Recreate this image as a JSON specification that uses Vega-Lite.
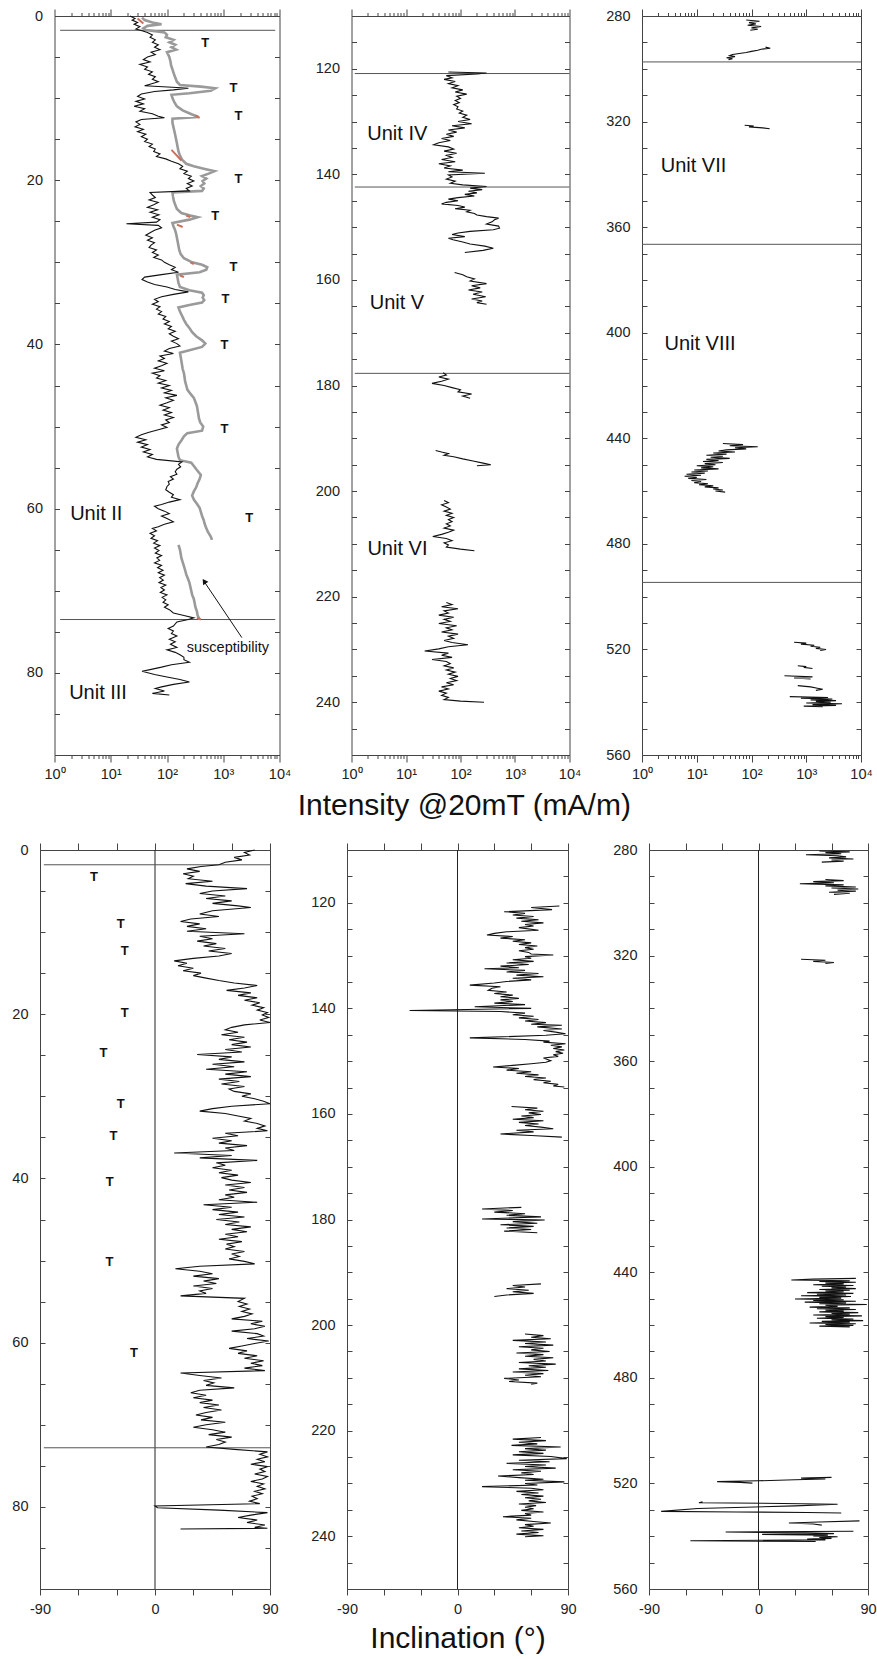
{
"$schema":"https://vega.github.io/schema/vega-lite/v6.json",
"background":"white",
"padding":{"left":11,"top":8,"right":0,"bottom":0},
"config":{"view":{"stroke":null},"axis":{"domainColor":"#444","tickColor":"#444","domainWidth":1,"tickWidth":1,"labelFont":"Liberation Sans","labelFontSize":14.5,"labelColor":"#222","grid":false,"titleFont":"Liberation Sans","titleFontWeight":"normal","titleFontSize":30,"titleColor":"#111"},"text":{"font":"Liberation Sans"}},
"datasets":{
"tlb":[{"d":0,"v":22},{"d":0.3,"v":27},{"d":0.5,"v":24},{"d":0.8,"v":30},{"d":1.0,"v":26},{"d":1.3,"v":33},{"d":1.6,"v":28},{"d":1.8,"v":36},{"d":2.0,"v":45},{"d":2.3,"v":55},{"d":2.6,"v":50},{"d":2.9,"v":62},{"d":3.2,"v":55},{"d":3.5,"v":70},{"d":3.8,"v":60},{"d":4.1,"v":75},{"d":4.4,"v":52},{"d":4.7,"v":62},{"d":5.0,"v":45},{"d":5.3,"v":38},{"d":5.6,"v":50},{"d":5.9,"v":33},{"d":6.2,"v":45},{"d":6.5,"v":40},{"d":6.8,"v":55},{"d":7.1,"v":47},{"d":7.4,"v":62},{"d":7.7,"v":55},{"d":8.0,"v":70},{"d":8.3,"v":50},{"d":8.5,"v":40},{"d":8.7,"v":150},{"d":8.8,"v":240},{"d":9.0,"v":130},{"d":9.2,"v":60},{"d":9.5,"v":35},{"d":9.8,"v":30},{"d":10.1,"v":40},{"d":10.4,"v":28},{"d":10.7,"v":38},{"d":11.0,"v":26},{"d":11.3,"v":40},{"d":11.6,"v":33},{"d":11.9,"v":55},{"d":12.2,"v":70},{"d":12.4,"v":90},{"d":12.6,"v":35},{"d":12.9,"v":28},{"d":13.2,"v":33},{"d":13.5,"v":27},{"d":13.8,"v":38},{"d":14.1,"v":30},{"d":14.4,"v":42},{"d":14.7,"v":35},{"d":15.0,"v":45},{"d":15.3,"v":40},{"d":15.6,"v":55},{"d":15.9,"v":48},{"d":16.2,"v":62},{"d":16.5,"v":58},{"d":16.8,"v":75},{"d":17.1,"v":65},{"d":17.4,"v":95},{"d":17.7,"v":120},{"d":18.0,"v":160},{"d":18.3,"v":190},{"d":18.6,"v":170},{"d":18.9,"v":230},{"d":19.2,"v":200},{"d":19.5,"v":270},{"d":19.8,"v":240},{"d":20.1,"v":300},{"d":20.4,"v":230},{"d":20.7,"v":280},{"d":21.0,"v":220},{"d":21.3,"v":250},{"d":21.5,"v":50},{"d":21.8,"v":55},{"d":22.1,"v":62},{"d":22.4,"v":48},{"d":22.7,"v":70},{"d":23.0,"v":58},{"d":23.3,"v":45},{"d":23.6,"v":68},{"d":23.9,"v":50},{"d":24.2,"v":72},{"d":24.5,"v":55},{"d":24.8,"v":75},{"d":25.1,"v":65},{"d":25.3,"v":19},{"d":25.5,"v":70},{"d":25.8,"v":80},{"d":26.1,"v":60},{"d":26.4,"v":50},{"d":26.7,"v":42},{"d":27.0,"v":55},{"d":27.3,"v":45},{"d":27.6,"v":60},{"d":27.9,"v":52},{"d":28.2,"v":48},{"d":28.5,"v":65},{"d":28.8,"v":55},{"d":29.1,"v":70},{"d":29.4,"v":58},{"d":29.7,"v":80},{"d":30.0,"v":90},{"d":30.3,"v":110},{"d":30.6,"v":140},{"d":30.9,"v":120},{"d":31.2,"v":160},{"d":31.5,"v":80},{"d":31.8,"v":40},{"d":32.1,"v":36},{"d":32.4,"v":45},{"d":32.7,"v":60},{"d":33.0,"v":100},{"d":33.3,"v":140},{"d":33.6,"v":240},{"d":33.9,"v":130},{"d":34.2,"v":80},{"d":34.5,"v":60},{"d":34.8,"v":70},{"d":35.1,"v":55},{"d":35.4,"v":75},{"d":35.7,"v":65},{"d":36.0,"v":80},{"d":36.3,"v":70},{"d":36.6,"v":95},{"d":36.9,"v":85},{"d":37.2,"v":110},{"d":37.5,"v":90},{"d":37.8,"v":120},{"d":38.1,"v":105},{"d":38.4,"v":140},{"d":38.7,"v":110},{"d":39.0,"v":130},{"d":39.3,"v":160},{"d":39.6,"v":120},{"d":39.9,"v":150},{"d":40.2,"v":170},{"d":40.5,"v":110},{"d":40.8,"v":90},{"d":41.1,"v":130},{"d":41.4,"v":75},{"d":41.7,"v":90},{"d":42.0,"v":70},{"d":42.3,"v":100},{"d":42.6,"v":80},{"d":42.9,"v":60},{"d":43.2,"v":90},{"d":43.5,"v":55},{"d":43.8,"v":75},{"d":44.1,"v":65},{"d":44.4,"v":95},{"d":44.7,"v":70},{"d":45.0,"v":110},{"d":45.3,"v":80},{"d":45.6,"v":120},{"d":45.9,"v":90},{"d":46.2,"v":150},{"d":46.5,"v":95},{"d":46.8,"v":130},{"d":47.1,"v":100},{"d":47.4,"v":75},{"d":47.7,"v":110},{"d":48.0,"v":85},{"d":48.3,"v":120},{"d":48.6,"v":90},{"d":48.9,"v":130},{"d":49.2,"v":95},{"d":49.5,"v":110},{"d":49.8,"v":80},{"d":50.1,"v":100},{"d":50.4,"v":70},{"d":50.7,"v":48},{"d":51.0,"v":35},{"d":51.3,"v":28},{"d":51.6,"v":42},{"d":51.9,"v":30},{"d":52.2,"v":45},{"d":52.5,"v":35},{"d":52.8,"v":50},{"d":53.1,"v":38},{"d":53.4,"v":55},{"d":53.7,"v":45},{"d":54.0,"v":65},{"d":54.3,"v":185},{"d":54.6,"v":160},{"d":54.9,"v":175},{"d":55.2,"v":150},{"d":55.5,"v":140},{"d":55.8,"v":150},{"d":56.1,"v":115},{"d":56.4,"v":130},{"d":56.7,"v":105},{"d":57.0,"v":110},{"d":57.3,"v":100},{"d":57.7,"v":95},{"d":58.0,"v":110},{"d":58.3,"v":130},{"d":58.6,"v":120},{"d":58.9,"v":170},{"d":59.2,"v":110},{"d":59.5,"v":80},{"d":59.7,"v":60},{"d":60.0,"v":70},{"d":60.3,"v":90},{"d":60.6,"v":110},{"d":60.9,"v":80},{"d":61.2,"v":100},{"d":61.6,"v":130},{"d":61.9,"v":90},{"d":62.2,"v":70},{"d":62.4,"v":55},{"d":62.7,"v":65},{"d":63.0,"v":50},{"d":63.3,"v":60},{"d":63.6,"v":52},{"d":63.9,"v":68},{"d":64.2,"v":58},{"d":64.5,"v":75},{"d":64.8,"v":60},{"d":65.1,"v":72},{"d":65.4,"v":62},{"d":65.7,"v":80},{"d":66.0,"v":66},{"d":66.3,"v":74},{"d":66.6,"v":60},{"d":66.9,"v":80},{"d":67.2,"v":68},{"d":67.5,"v":85},{"d":67.8,"v":70},{"d":68.1,"v":90},{"d":68.4,"v":74},{"d":68.7,"v":86},{"d":69.0,"v":72},{"d":69.3,"v":95},{"d":69.6,"v":78},{"d":69.9,"v":90},{"d":70.2,"v":76},{"d":70.5,"v":100},{"d":70.8,"v":82},{"d":71.1,"v":95},{"d":71.4,"v":85},{"d":71.7,"v":105},{"d":72.0,"v":90},{"d":72.3,"v":110},{"d":72.7,"v":130},{"d":73.0,"v":200},{"d":73.3,"v":300},{"d":73.5,"v":240},{"d":73.8,"v":150},{"d":74.3,"v":130},{"d":74.6,"v":105},{"d":74.9,"v":130},{"d":75.2,"v":120},{"d":75.5,"v":150},{"d":75.9,"v":110},{"d":76.2,"v":140},{"d":76.5,"v":115},{"d":76.9,"v":150},{"d":77.2,"v":100},{"d":77.5,"v":140},{"d":77.8,"v":170},{"d":78.1,"v":200},{"d":78.4,"v":200},{"d":78.7,"v":250},{"d":79.0,"v":120},{"d":79.3,"v":80},{"d":79.6,"v":50},{"d":79.8,"v":36},{"d":80.2,"v":60},{"d":80.5,"v":100},{"d":80.8,"v":170},{"d":81.1,"v":250},{"d":81.4,"v":130},{"d":81.7,"v":80},{"d":81.9,"v":62},{"d":82.2,"v":90},{"d":82.5,"v":55},{"d":82.7,"v":110}],
"tls":[{"d":0.2,"v":36,"g":1},{"d":0.5,"v":40,"g":1},{"d":0.8,"v":55,"g":1},{"d":1.0,"v":80,"g":1},{"d":1.2,"v":45,"g":1},{"d":1.5,"v":38,"g":1},{"d":1.7,"v":42,"g":1},{"d":2.0,"v":90,"g":1},{"d":2.3,"v":100,"g":1},{"d":2.6,"v":95,"g":1},{"d":2.9,"v":130,"g":1},{"d":3.2,"v":110,"g":1},{"d":3.5,"v":140,"g":1},{"d":3.8,"v":120,"g":1},{"d":4.1,"v":145,"g":1},{"d":4.4,"v":100,"g":1},{"d":4.7,"v":105,"g":1},{"d":5.0,"v":110,"g":1},{"d":5.5,"v":115,"g":1},{"d":6.0,"v":118,"g":1},{"d":6.5,"v":125,"g":1},{"d":7.0,"v":132,"g":1},{"d":7.5,"v":140,"g":1},{"d":8.0,"v":150,"g":1},{"d":8.4,"v":170,"g":1},{"d":8.6,"v":400,"g":1},{"d":8.8,"v":720,"g":1},{"d":9.1,"v":600,"g":1},{"d":9.4,"v":250,"g":1},{"d":9.6,"v":120,"g":1},{"d":10.0,"v":125,"g":1},{"d":10.5,"v":135,"g":1},{"d":11.0,"v":150,"g":1},{"d":11.5,"v":190,"g":1},{"d":12.0,"v":280,"g":1},{"d":12.3,"v":360,"g":1},{"d":12.5,"v":125,"g":1},{"d":13.0,"v":125,"g":1},{"d":13.5,"v":130,"g":1},{"d":14.0,"v":135,"g":1},{"d":14.5,"v":140,"g":1},{"d":15.0,"v":145,"g":1},{"d":15.5,"v":150,"g":1},{"d":16.0,"v":155,"g":1},{"d":16.5,"v":160,"g":1},{"d":17.0,"v":170,"g":1},{"d":17.5,"v":185,"g":1},{"d":18.0,"v":220,"g":1},{"d":18.3,"v":300,"g":1},{"d":18.6,"v":450,"g":1},{"d":18.9,"v":700,"g":1},{"d":19.2,"v":550,"g":1},{"d":19.5,"v":420,"g":1},{"d":19.8,"v":500,"g":1},{"d":20.1,"v":430,"g":1},{"d":20.4,"v":460,"g":1},{"d":20.7,"v":400,"g":1},{"d":21.0,"v":450,"g":1},{"d":21.3,"v":420,"g":1},{"d":21.5,"v":125,"g":1},{"d":22.0,"v":128,"g":1},{"d":22.5,"v":132,"g":1},{"d":23.0,"v":140,"g":1},{"d":23.5,"v":150,"g":1},{"d":24.0,"v":180,"g":1},{"d":24.3,"v":260,"g":1},{"d":24.5,"v":350,"g":1},{"d":24.8,"v":250,"g":1},{"d":25.2,"v":125,"g":1},{"d":25.6,"v":130,"g":1},{"d":26.0,"v":138,"g":1},{"d":26.5,"v":145,"g":1},{"d":27.0,"v":150,"g":1},{"d":27.5,"v":155,"g":1},{"d":28.0,"v":160,"g":1},{"d":28.5,"v":165,"g":1},{"d":29.0,"v":175,"g":1},{"d":29.5,"v":200,"g":1},{"d":30.0,"v":280,"g":1},{"d":30.3,"v":420,"g":1},{"d":30.6,"v":520,"g":1},{"d":30.9,"v":500,"g":1},{"d":31.2,"v":380,"g":1},{"d":31.5,"v":150,"g":1},{"d":32.0,"v":155,"g":1},{"d":32.5,"v":160,"g":1},{"d":33.0,"v":170,"g":1},{"d":33.4,"v":250,"g":1},{"d":33.7,"v":420,"g":1},{"d":34.0,"v":450,"g":1},{"d":34.3,"v":430,"g":1},{"d":34.6,"v":460,"g":1},{"d":34.9,"v":420,"g":1},{"d":35.2,"v":250,"g":1},{"d":35.5,"v":160,"g":1},{"d":36.0,"v":170,"g":1},{"d":36.5,"v":185,"g":1},{"d":37.0,"v":200,"g":1},{"d":37.5,"v":220,"g":1},{"d":38.0,"v":250,"g":1},{"d":38.5,"v":280,"g":1},{"d":39.0,"v":330,"g":1},{"d":39.5,"v":420,"g":1},{"d":39.9,"v":480,"g":1},{"d":40.3,"v":420,"g":1},{"d":40.7,"v":250,"g":1},{"d":41.0,"v":170,"g":1},{"d":41.5,"v":175,"g":1},{"d":42.0,"v":180,"g":1},{"d":42.5,"v":185,"g":1},{"d":43.0,"v":190,"g":1},{"d":43.5,"v":200,"g":1},{"d":44.0,"v":205,"g":1},{"d":44.5,"v":210,"g":1},{"d":45.0,"v":220,"g":1},{"d":45.5,"v":230,"g":1},{"d":46.0,"v":260,"g":1},{"d":46.5,"v":300,"g":1},{"d":47.0,"v":320,"g":1},{"d":47.5,"v":340,"g":1},{"d":48.0,"v":350,"g":1},{"d":48.5,"v":360,"g":1},{"d":49.0,"v":370,"g":1},{"d":49.5,"v":390,"g":1},{"d":50.0,"v":440,"g":1},{"d":50.5,"v":420,"g":1},{"d":50.8,"v":230,"g":1},{"d":51.2,"v":200,"g":1},{"d":51.7,"v":180,"g":1},{"d":52.2,"v":160,"g":1},{"d":52.7,"v":150,"g":1},{"d":53.2,"v":155,"g":1},{"d":53.7,"v":160,"g":1},{"d":54.1,"v":170,"g":1},{"d":54.4,"v":270,"g":1},{"d":54.8,"v":300,"g":1},{"d":55.3,"v":340,"g":1},{"d":55.9,"v":400,"g":1},{"d":56.4,"v":380,"g":1},{"d":56.9,"v":350,"g":1},{"d":57.4,"v":330,"g":1},{"d":57.9,"v":300,"g":1},{"d":58.4,"v":280,"g":1},{"d":58.9,"v":300,"g":1},{"d":59.4,"v":340,"g":1},{"d":59.9,"v":380,"g":1},{"d":60.4,"v":400,"g":1},{"d":60.9,"v":420,"g":1},{"d":61.4,"v":450,"g":1},{"d":61.9,"v":470,"g":1},{"d":62.4,"v":500,"g":1},{"d":62.9,"v":540,"g":1},{"d":63.4,"v":600,"g":1},{"d":63.8,"v":630,"g":1},{"d":64.4,"v":160,"g":2},{"d":65.0,"v":170,"g":2},{"d":65.5,"v":175,"g":2},{"d":66.0,"v":180,"g":2},{"d":66.5,"v":190,"g":2},{"d":67.0,"v":200,"g":2},{"d":67.5,"v":210,"g":2},{"d":68.0,"v":220,"g":2},{"d":68.5,"v":235,"g":2},{"d":69.0,"v":250,"g":2},{"d":69.5,"v":260,"g":2},{"d":70.0,"v":270,"g":2},{"d":70.5,"v":280,"g":2},{"d":71.0,"v":300,"g":2},{"d":71.5,"v":310,"g":2},{"d":72.0,"v":320,"g":2},{"d":72.5,"v":340,"g":2},{"d":73.0,"v":350,"g":2},{"d":73.5,"v":380,"g":2}],
"tlr":[{"d":0.3,"v":30,"g":1},{"d":0.9,"v":38,"g":1},{"d":12.1,"v":320,"g":2},{"d":12.4,"v":380,"g":2},{"d":16.3,"v":120,"g":3},{"d":17.0,"v":150,"g":3},{"d":17.6,"v":180,"g":3},{"d":24.3,"v":220,"g":4},{"d":24.5,"v":260,"g":4},{"d":25.4,"v":150,"g":5},{"d":25.7,"v":190,"g":5},{"d":30.0,"v":260,"g":6},{"d":30.2,"v":300,"g":6},{"d":31.6,"v":170,"g":7},{"d":31.8,"v":200,"g":7},{"d":73.3,"v":340,"g":8},{"d":73.5,"v":400,"g":8}],
"tmb":[{"d":120.6,"v":60,"g":1},{"d":120.8,"v":300,"g":1},{"d":121.0,"v":200,"g":1},{"d":121.3,"v":55,"g":1},{"d":121.7,"v":70,"g":1},{"d":122.0,"v":50,"g":1},{"d":122.4,"v":80,"g":1},{"d":122.8,"v":60,"g":1},{"d":123.2,"v":90,"g":1},{"d":123.6,"v":70,"g":1},{"d":124.0,"v":110,"g":1},{"d":124.4,"v":80,"g":1},{"d":124.8,"v":130,"g":1},{"d":125.2,"v":85,"g":1},{"d":125.6,"v":100,"g":1},{"d":126.0,"v":80,"g":1},{"d":126.4,"v":95,"g":1},{"d":126.8,"v":75,"g":1},{"d":127.2,"v":90,"g":1},{"d":127.6,"v":85,"g":1},{"d":128.0,"v":110,"g":1},{"d":128.4,"v":95,"g":1},{"d":128.8,"v":130,"g":1},{"d":129.2,"v":110,"g":1},{"d":129.6,"v":150,"g":1},{"d":130.0,"v":90,"g":1},{"d":130.4,"v":160,"g":1},{"d":130.8,"v":70,"g":1},{"d":131.2,"v":120,"g":1},{"d":131.6,"v":60,"g":1},{"d":132.0,"v":85,"g":1},{"d":132.4,"v":55,"g":1},{"d":132.8,"v":75,"g":1},{"d":133.2,"v":45,"g":1},{"d":133.6,"v":65,"g":1},{"d":134.0,"v":40,"g":1},{"d":134.4,"v":32,"g":1},{"d":134.8,"v":60,"g":1},{"d":135.2,"v":75,"g":1},{"d":135.6,"v":50,"g":1},{"d":136.0,"v":85,"g":1},{"d":136.4,"v":55,"g":1},{"d":136.8,"v":70,"g":1},{"d":137.2,"v":45,"g":1},{"d":137.6,"v":80,"g":1},{"d":138.0,"v":40,"g":1},{"d":138.4,"v":65,"g":1},{"d":138.8,"v":50,"g":1},{"d":139.2,"v":110,"g":1},{"d":139.5,"v":60,"g":1},{"d":139.8,"v":280,"g":1},{"d":140.1,"v":60,"g":1},{"d":140.5,"v":70,"g":1},{"d":140.9,"v":55,"g":1},{"d":141.3,"v":80,"g":1},{"d":141.7,"v":65,"g":1},{"d":142.0,"v":110,"g":1},{"d":142.3,"v":300,"g":1},{"d":142.6,"v":150,"g":1},{"d":142.9,"v":250,"g":1},{"d":143.2,"v":140,"g":1},{"d":143.5,"v":200,"g":1},{"d":143.8,"v":120,"g":1},{"d":144.1,"v":180,"g":1},{"d":144.4,"v":90,"g":1},{"d":144.7,"v":60,"g":1},{"d":145.0,"v":90,"g":1},{"d":145.3,"v":55,"g":1},{"d":145.6,"v":45,"g":1},{"d":145.9,"v":90,"g":1},{"d":146.2,"v":120,"g":1},{"d":146.5,"v":80,"g":1},{"d":146.8,"v":150,"g":1},{"d":147.1,"v":130,"g":1},{"d":147.4,"v":180,"g":1},{"d":147.7,"v":200,"g":1},{"d":148.0,"v":300,"g":1},{"d":148.3,"v":500,"g":1},{"d":148.6,"v":420,"g":1},{"d":149.0,"v":380,"g":1},{"d":149.4,"v":300,"g":1},{"d":149.8,"v":500,"g":1},{"d":150.2,"v":520,"g":1},{"d":150.5,"v":400,"g":1},{"d":150.8,"v":150,"g":1},{"d":151.1,"v":90,"g":1},{"d":151.4,"v":70,"g":1},{"d":151.8,"v":120,"g":1},{"d":152.1,"v":60,"g":1},{"d":152.4,"v":73,"g":1},{"d":152.8,"v":110,"g":1},{"d":153.2,"v":150,"g":1},{"d":153.6,"v":280,"g":1},{"d":154.0,"v":400,"g":1},{"d":154.4,"v":260,"g":1},{"d":154.8,"v":120,"g":1},{"d":158.6,"v":78,"g":2},{"d":159.0,"v":110,"g":2},{"d":159.4,"v":130,"g":2},{"d":159.8,"v":180,"g":2},{"d":160.2,"v":150,"g":2},{"d":160.7,"v":300,"g":2},{"d":161.1,"v":160,"g":2},{"d":161.5,"v":230,"g":2},{"d":161.9,"v":140,"g":2},{"d":162.3,"v":250,"g":2},{"d":162.7,"v":170,"g":2},{"d":163.2,"v":290,"g":2},{"d":163.6,"v":160,"g":2},{"d":164.0,"v":250,"g":2},{"d":164.3,"v":200,"g":2},{"d":164.6,"v":300,"g":2},{"d":177.6,"v":48,"g":3},{"d":178.0,"v":55,"g":3},{"d":178.4,"v":40,"g":3},{"d":178.8,"v":60,"g":3},{"d":179.2,"v":45,"g":3},{"d":179.6,"v":30,"g":3},{"d":180.0,"v":50,"g":3},{"d":180.4,"v":70,"g":3},{"d":180.8,"v":100,"g":3},{"d":181.2,"v":90,"g":3},{"d":181.6,"v":160,"g":3},{"d":182.0,"v":110,"g":3},{"d":182.4,"v":150,"g":3},{"d":192.3,"v":35,"g":4},{"d":192.6,"v":45,"g":4},{"d":192.9,"v":60,"g":4},{"d":193.2,"v":50,"g":4},{"d":193.5,"v":75,"g":4},{"d":193.9,"v":110,"g":4},{"d":194.3,"v":170,"g":4},{"d":194.7,"v":260,"g":4},{"d":195.0,"v":360,"g":4},{"d":195.2,"v":200,"g":4},{"d":201.8,"v":50,"g":5},{"d":202.2,"v":60,"g":5},{"d":202.6,"v":45,"g":5},{"d":203.0,"v":55,"g":5},{"d":203.4,"v":65,"g":5},{"d":203.8,"v":50,"g":5},{"d":204.2,"v":70,"g":5},{"d":204.6,"v":55,"g":5},{"d":205.0,"v":75,"g":5},{"d":205.4,"v":60,"g":5},{"d":205.8,"v":70,"g":5},{"d":206.2,"v":55,"g":5},{"d":206.6,"v":65,"g":5},{"d":207.0,"v":50,"g":5},{"d":207.4,"v":75,"g":5},{"d":207.8,"v":60,"g":5},{"d":208.2,"v":45,"g":5},{"d":208.6,"v":31,"g":5},{"d":209.0,"v":55,"g":5},{"d":209.4,"v":70,"g":5},{"d":209.8,"v":50,"g":5},{"d":210.2,"v":60,"g":5},{"d":210.6,"v":55,"g":5},{"d":211.0,"v":100,"g":5},{"d":211.3,"v":180,"g":5},{"d":221.1,"v":55,"g":6},{"d":221.5,"v":70,"g":6},{"d":221.9,"v":45,"g":6},{"d":222.3,"v":90,"g":6},{"d":222.7,"v":50,"g":6},{"d":223.1,"v":60,"g":6},{"d":223.5,"v":40,"g":6},{"d":223.9,"v":75,"g":6},{"d":224.3,"v":50,"g":6},{"d":224.7,"v":65,"g":6},{"d":225.1,"v":40,"g":6},{"d":225.5,"v":85,"g":6},{"d":225.9,"v":55,"g":6},{"d":226.3,"v":70,"g":6},{"d":226.7,"v":45,"g":6},{"d":227.1,"v":90,"g":6},{"d":227.5,"v":60,"g":6},{"d":227.9,"v":75,"g":6},{"d":228.3,"v":50,"g":6},{"d":228.7,"v":70,"g":6},{"d":229.1,"v":137,"g":6},{"d":229.5,"v":60,"g":6},{"d":229.9,"v":40,"g":6},{"d":230.3,"v":22,"g":6},{"d":230.7,"v":60,"g":6},{"d":231.1,"v":45,"g":6},{"d":231.5,"v":70,"g":6},{"d":231.9,"v":30,"g":6},{"d":232.3,"v":55,"g":6},{"d":232.7,"v":65,"g":6},{"d":233.1,"v":50,"g":6},{"d":233.5,"v":75,"g":6},{"d":233.9,"v":55,"g":6},{"d":234.3,"v":80,"g":6},{"d":234.7,"v":60,"g":6},{"d":235.1,"v":90,"g":6},{"d":235.5,"v":65,"g":6},{"d":235.9,"v":85,"g":6},{"d":236.3,"v":55,"g":6},{"d":236.7,"v":75,"g":6},{"d":237.1,"v":45,"g":6},{"d":237.5,"v":60,"g":6},{"d":237.9,"v":40,"g":6},{"d":238.3,"v":55,"g":6},{"d":238.7,"v":45,"g":6},{"d":239.1,"v":60,"g":6},{"d":239.5,"v":50,"g":6},{"d":239.8,"v":100,"g":6},{"d":240.0,"v":270,"g":6}],
"trb":[{"d":281.5,"v":80,"g":1},{"d":282.0,"v":140,"g":1},{"d":282.5,"v":90,"g":1},{"d":283.0,"v":120,"g":1},{"d":283.5,"v":85,"g":1},{"d":284.0,"v":150,"g":1},{"d":284.5,"v":100,"g":1},{"d":285.0,"v":130,"g":1},{"d":285.4,"v":95,"g":1},{"d":291.8,"v":180,"g":2},{"d":292.2,"v":220,"g":2},{"d":292.6,"v":150,"g":2},{"d":293.0,"v":130,"g":2},{"d":293.4,"v":100,"g":2},{"d":293.8,"v":80,"g":2},{"d":294.2,"v":60,"g":2},{"d":294.6,"v":45,"g":2},{"d":295.0,"v":40,"g":2},{"d":295.4,"v":50,"g":2},{"d":295.8,"v":35,"g":2},{"d":296.2,"v":45,"g":2},{"d":296.6,"v":38,"g":2},{"d":321.4,"v":75,"g":3},{"d":321.7,"v":110,"g":3},{"d":322.0,"v":90,"g":3},{"d":322.4,"v":160,"g":3},{"d":322.7,"v":215,"g":3},{"d":442.0,"v":30,"g":4},{"d":442.4,"v":70,"g":4},{"d":442.8,"v":40,"g":4},{"d":443.2,"v":130,"g":4},{"d":443.6,"v":50,"g":4},{"d":444.0,"v":80,"g":4},{"d":444.4,"v":35,"g":4},{"d":444.8,"v":25,"g":4},{"d":445.2,"v":50,"g":4},{"d":445.6,"v":20,"g":4},{"d":446.0,"v":35,"g":4},{"d":446.4,"v":15,"g":4},{"d":446.8,"v":30,"g":4},{"d":447.2,"v":18,"g":4},{"d":447.6,"v":40,"g":4},{"d":448.0,"v":15,"g":4},{"d":448.4,"v":25,"g":4},{"d":448.8,"v":13,"g":4},{"d":449.2,"v":30,"g":4},{"d":449.6,"v":14,"g":4},{"d":450.0,"v":22,"g":4},{"d":450.4,"v":10,"g":4},{"d":450.8,"v":20,"g":4},{"d":451.2,"v":12,"g":4},{"d":451.6,"v":25,"g":4},{"d":452.0,"v":9,"g":4},{"d":452.4,"v":16,"g":4},{"d":452.8,"v":8,"g":4},{"d":453.2,"v":14,"g":4},{"d":453.6,"v":6.5,"g":4},{"d":454.0,"v":12,"g":4},{"d":454.4,"v":6,"g":4},{"d":454.8,"v":10,"g":4},{"d":455.2,"v":7,"g":4},{"d":455.6,"v":15,"g":4},{"d":456.0,"v":8,"g":4},{"d":456.4,"v":12,"g":4},{"d":456.8,"v":9,"g":4},{"d":457.2,"v":16,"g":4},{"d":457.6,"v":11,"g":4},{"d":458.0,"v":20,"g":4},{"d":458.4,"v":14,"g":4},{"d":458.8,"v":25,"g":4},{"d":459.2,"v":20,"g":4},{"d":459.6,"v":30,"g":4},{"d":460.0,"v":22,"g":4},{"d":460.4,"v":33,"g":4},{"d":517.3,"v":600,"g":5},{"d":517.6,"v":1000,"g":5},{"d":518.0,"v":800,"g":5},{"d":518.4,"v":1400,"g":5},{"d":518.8,"v":1200,"g":5},{"d":519.2,"v":1800,"g":5},{"d":519.6,"v":1500,"g":5},{"d":520.0,"v":2300,"g":5},{"d":520.4,"v":1800,"g":5},{"d":526.2,"v":700,"g":6},{"d":526.5,"v":1000,"g":6},{"d":526.8,"v":900,"g":6},{"d":527.2,"v":1300,"g":6},{"d":530.0,"v":400,"g":7},{"d":530.4,"v":1300,"g":7},{"d":530.8,"v":600,"g":7},{"d":531.2,"v":1200,"g":7},{"d":533.7,"v":700,"g":8},{"d":534.2,"v":1200,"g":8},{"d":534.7,"v":1600,"g":8},{"d":535.1,"v":2000,"g":8},{"d":535.5,"v":1500,"g":8},{"d":537.9,"v":500,"g":9},{"d":538.2,"v":2500,"g":9},{"d":538.5,"v":800,"g":9},{"d":538.8,"v":3000,"g":9},{"d":539.1,"v":1200,"g":9},{"d":539.4,"v":3500,"g":9},{"d":539.7,"v":1500,"g":9},{"d":540.0,"v":2800,"g":9},{"d":540.3,"v":1000,"g":9},{"d":540.6,"v":4500,"g":9},{"d":540.9,"v":1300,"g":9},{"d":541.2,"v":3500,"g":9},{"d":541.5,"v":900,"g":9},{"d":541.7,"v":2000,"g":9}],
"blb":[{"d":0,"v":78},{"d":0.3,"v":70},{"d":0.6,"v":74},{"d":0.9,"v":62},{"d":1.2,"v":68},{"d":1.5,"v":55},{"d":1.8,"v":50},{"d":2.0,"v":36},{"d":2.3,"v":25},{"d":2.6,"v":35},{"d":2.9,"v":22},{"d":3.2,"v":30},{"d":3.5,"v":26},{"d":3.8,"v":45},{"d":4.1,"v":24},{"d":4.4,"v":40},{"d":4.7,"v":72},{"d":5.0,"v":45},{"d":5.3,"v":35},{"d":5.6,"v":55},{"d":5.9,"v":40},{"d":6.2,"v":60},{"d":6.5,"v":45},{"d":6.8,"v":65},{"d":7.0,"v":75},{"d":7.4,"v":45},{"d":7.8,"v":35},{"d":8.1,"v":50},{"d":8.4,"v":28},{"d":8.7,"v":20},{"d":9.0,"v":35},{"d":9.3,"v":25},{"d":9.6,"v":40},{"d":9.9,"v":25},{"d":10.2,"v":70},{"d":10.5,"v":35},{"d":10.8,"v":45},{"d":11.1,"v":33},{"d":11.4,"v":48},{"d":11.7,"v":38},{"d":12.0,"v":55},{"d":12.3,"v":42},{"d":12.6,"v":60},{"d":12.9,"v":50},{"d":13.2,"v":30},{"d":13.5,"v":15},{"d":13.8,"v":25},{"d":14.1,"v":18},{"d":14.4,"v":30},{"d":14.7,"v":22},{"d":15.0,"v":36},{"d":15.3,"v":30},{"d":15.6,"v":40},{"d":15.9,"v":50},{"d":16.2,"v":62},{"d":16.5,"v":80},{"d":16.8,"v":70},{"d":17.1,"v":56},{"d":17.4,"v":75},{"d":17.7,"v":65},{"d":18.0,"v":80},{"d":18.3,"v":70},{"d":18.6,"v":82},{"d":18.9,"v":76},{"d":19.2,"v":85},{"d":19.5,"v":80},{"d":19.8,"v":88},{"d":20.1,"v":84},{"d":20.4,"v":89},{"d":20.7,"v":82},{"d":21.0,"v":90},{"d":21.3,"v":70},{"d":21.6,"v":60},{"d":21.9,"v":55},{"d":22.2,"v":65},{"d":22.5,"v":52},{"d":22.8,"v":70},{"d":23.1,"v":58},{"d":23.4,"v":72},{"d":23.7,"v":60},{"d":24.0,"v":75},{"d":24.3,"v":55},{"d":24.6,"v":68},{"d":24.9,"v":33},{"d":25.2,"v":60},{"d":25.5,"v":50},{"d":25.8,"v":70},{"d":26.1,"v":45},{"d":26.4,"v":62},{"d":26.7,"v":40},{"d":27.0,"v":72},{"d":27.3,"v":55},{"d":27.6,"v":75},{"d":27.9,"v":50},{"d":28.2,"v":66},{"d":28.5,"v":52},{"d":28.8,"v":70},{"d":29.1,"v":58},{"d":29.4,"v":62},{"d":29.7,"v":75},{"d":30.0,"v":68},{"d":30.3,"v":78},{"d":30.6,"v":85},{"d":30.9,"v":90},{"d":31.2,"v":60},{"d":31.5,"v":45},{"d":31.8,"v":35},{"d":32.1,"v":55},{"d":32.4,"v":65},{"d":32.7,"v":75},{"d":33.0,"v":70},{"d":33.3,"v":80},{"d":33.6,"v":86},{"d":33.9,"v":80},{"d":34.2,"v":88},{"d":34.5,"v":55},{"d":34.8,"v":65},{"d":35.1,"v":45},{"d":35.4,"v":60},{"d":35.7,"v":50},{"d":36.0,"v":72},{"d":36.3,"v":55},{"d":36.6,"v":62},{"d":36.9,"v":15},{"d":37.2,"v":60},{"d":37.5,"v":35},{"d":37.8,"v":80},{"d":38.1,"v":48},{"d":38.4,"v":55},{"d":38.7,"v":45},{"d":39.0,"v":60},{"d":39.3,"v":50},{"d":39.6,"v":65},{"d":39.9,"v":52},{"d":40.2,"v":60},{"d":40.5,"v":75},{"d":40.8,"v":55},{"d":41.1,"v":70},{"d":41.4,"v":58},{"d":41.7,"v":72},{"d":42.0,"v":55},{"d":42.3,"v":62},{"d":42.6,"v":50},{"d":42.9,"v":80},{"d":43.2,"v":38},{"d":43.5,"v":60},{"d":43.8,"v":45},{"d":44.1,"v":65},{"d":44.4,"v":50},{"d":44.7,"v":70},{"d":45.0,"v":48},{"d":45.3,"v":66},{"d":45.6,"v":55},{"d":45.9,"v":75},{"d":46.2,"v":60},{"d":46.5,"v":72},{"d":46.8,"v":55},{"d":47.1,"v":65},{"d":47.4,"v":50},{"d":47.7,"v":68},{"d":48.0,"v":56},{"d":48.3,"v":62},{"d":48.6,"v":55},{"d":48.9,"v":70},{"d":49.2,"v":60},{"d":49.5,"v":66},{"d":49.8,"v":58},{"d":50.1,"v":70},{"d":50.4,"v":78},{"d":50.7,"v":35},{"d":51.0,"v":16},{"d":51.3,"v":35},{"d":51.6,"v":45},{"d":51.9,"v":30},{"d":52.2,"v":50},{"d":52.5,"v":38},{"d":52.8,"v":48},{"d":53.1,"v":30},{"d":53.4,"v":45},{"d":53.7,"v":35},{"d":54.0,"v":40},{"d":54.3,"v":20},{"d":54.6,"v":70},{"d":55.0,"v":65},{"d":55.3,"v":72},{"d":55.6,"v":66},{"d":55.9,"v":74},{"d":56.2,"v":68},{"d":56.5,"v":76},{"d":56.8,"v":70},{"d":57.1,"v":60},{"d":57.4,"v":84},{"d":57.7,"v":75},{"d":58.0,"v":86},{"d":58.3,"v":78},{"d":58.6,"v":60},{"d":58.9,"v":80},{"d":59.2,"v":85},{"d":59.5,"v":72},{"d":59.8,"v":89},{"d":60.1,"v":78},{"d":60.4,"v":68},{"d":60.7,"v":58},{"d":61.0,"v":72},{"d":61.3,"v":65},{"d":61.6,"v":80},{"d":61.9,"v":70},{"d":62.2,"v":85},{"d":62.5,"v":75},{"d":62.8,"v":84},{"d":63.1,"v":70},{"d":63.4,"v":86},{"d":63.7,"v":20},{"d":64.0,"v":35},{"d":64.3,"v":52},{"d":64.6,"v":38},{"d":64.9,"v":46},{"d":65.2,"v":40},{"d":65.5,"v":62},{"d":65.8,"v":35},{"d":66.1,"v":28},{"d":66.4,"v":40},{"d":66.7,"v":30},{"d":67.0,"v":45},{"d":67.3,"v":35},{"d":67.6,"v":50},{"d":67.9,"v":38},{"d":68.2,"v":52},{"d":68.5,"v":40},{"d":68.8,"v":32},{"d":69.1,"v":45},{"d":69.4,"v":36},{"d":69.7,"v":55},{"d":70.0,"v":40},{"d":70.3,"v":30},{"d":70.6,"v":45},{"d":70.9,"v":55},{"d":71.2,"v":42},{"d":71.5,"v":60},{"d":71.8,"v":48},{"d":72.1,"v":55},{"d":72.4,"v":50},{"d":72.7,"v":40},{"d":73.0,"v":62},{"d":73.3,"v":88},{"d":73.6,"v":82},{"d":73.9,"v":88},{"d":74.2,"v":80},{"d":74.5,"v":86},{"d":74.8,"v":75},{"d":75.1,"v":88},{"d":75.4,"v":82},{"d":75.7,"v":86},{"d":76.0,"v":78},{"d":76.3,"v":88},{"d":76.6,"v":84},{"d":76.9,"v":75},{"d":77.2,"v":85},{"d":77.5,"v":80},{"d":77.8,"v":86},{"d":78.1,"v":78},{"d":78.4,"v":84},{"d":78.7,"v":76},{"d":79.0,"v":80},{"d":79.3,"v":74},{"d":79.6,"v":82},{"d":79.9,"v":0},{"d":80.1,"v":2},{"d":80.4,"v":50},{"d":80.7,"v":88},{"d":81.0,"v":75},{"d":81.3,"v":65},{"d":81.6,"v":80},{"d":81.9,"v":72},{"d":82.2,"v":86},{"d":82.5,"v":78},{"d":82.6,"v":88},{"d":82.7,"v":20}],
"bmb":[{"d":120.6,"v":83,"g":1},{"d":120.9,"v":60,"g":1},{"d":121.3,"v":77,"g":1},{"d":121.7,"v":38,"g":1},{"d":122.0,"v":55,"g":1},{"d":122.3,"v":45,"g":1},{"d":122.6,"v":62,"g":1},{"d":122.9,"v":48,"g":1},{"d":123.2,"v":66,"g":1},{"d":123.5,"v":52,"g":1},{"d":123.8,"v":70,"g":1},{"d":124.1,"v":55,"g":1},{"d":124.4,"v":62,"g":1},{"d":124.7,"v":50,"g":1},{"d":125.2,"v":66,"g":1},{"d":125.5,"v":40,"g":1},{"d":125.8,"v":30,"g":1},{"d":126.1,"v":24,"g":1},{"d":126.4,"v":45,"g":1},{"d":126.7,"v":35,"g":1},{"d":127.0,"v":55,"g":1},{"d":127.3,"v":45,"g":1},{"d":127.6,"v":60,"g":1},{"d":127.9,"v":50,"g":1},{"d":128.2,"v":65,"g":1},{"d":128.5,"v":55,"g":1},{"d":128.8,"v":62,"g":1},{"d":129.1,"v":50,"g":1},{"d":129.4,"v":58,"g":1},{"d":129.7,"v":60,"g":1},{"d":129.9,"v":78,"g":1},{"d":130.2,"v":55,"g":1},{"d":130.5,"v":60,"g":1},{"d":130.8,"v":45,"g":1},{"d":131.1,"v":62,"g":1},{"d":131.4,"v":40,"g":1},{"d":131.7,"v":58,"g":1},{"d":132.0,"v":35,"g":1},{"d":132.3,"v":50,"g":1},{"d":132.5,"v":22,"g":1},{"d":132.8,"v":55,"g":1},{"d":133.1,"v":40,"g":1},{"d":133.4,"v":66,"g":1},{"d":133.7,"v":48,"g":1},{"d":134.0,"v":70,"g":1},{"d":134.3,"v":45,"g":1},{"d":134.6,"v":60,"g":1},{"d":134.9,"v":40,"g":1},{"d":135.2,"v":30,"g":1},{"d":135.6,"v":10,"g":1},{"d":135.9,"v":35,"g":1},{"d":136.2,"v":28,"g":1},{"d":136.6,"v":25,"g":1},{"d":136.9,"v":40,"g":1},{"d":137.2,"v":30,"g":1},{"d":137.5,"v":45,"g":1},{"d":137.8,"v":35,"g":1},{"d":138.1,"v":50,"g":1},{"d":138.4,"v":35,"g":1},{"d":138.7,"v":45,"g":1},{"d":139.0,"v":30,"g":1},{"d":139.3,"v":55,"g":1},{"d":139.7,"v":14,"g":1},{"d":140.0,"v":60,"g":1},{"d":140.4,"v":-39,"g":1},{"d":140.6,"v":35,"g":1},{"d":140.9,"v":55,"g":1},{"d":141.2,"v":45,"g":1},{"d":141.5,"v":62,"g":1},{"d":141.8,"v":50,"g":1},{"d":142.1,"v":66,"g":1},{"d":142.4,"v":55,"g":1},{"d":142.7,"v":72,"g":1},{"d":143.0,"v":60,"g":1},{"d":143.2,"v":85,"g":1},{"d":143.5,"v":65,"g":1},{"d":143.9,"v":85,"g":1},{"d":144.2,"v":70,"g":1},{"d":144.5,"v":80,"g":1},{"d":144.8,"v":88,"g":1},{"d":145.1,"v":72,"g":1},{"d":145.6,"v":10,"g":1},{"d":145.9,"v":55,"g":1},{"d":146.2,"v":75,"g":1},{"d":146.4,"v":70,"g":1},{"d":146.7,"v":88,"g":1},{"d":147.0,"v":76,"g":1},{"d":147.3,"v":85,"g":1},{"d":147.6,"v":78,"g":1},{"d":147.9,"v":87,"g":1},{"d":148.2,"v":80,"g":1},{"d":148.5,"v":86,"g":1},{"d":148.8,"v":78,"g":1},{"d":149.1,"v":82,"g":1},{"d":149.4,"v":70,"g":1},{"d":149.9,"v":76,"g":1},{"d":150.2,"v":72,"g":1},{"d":150.5,"v":60,"g":1},{"d":150.8,"v":45,"g":1},{"d":151.1,"v":29,"g":1},{"d":151.4,"v":50,"g":1},{"d":151.7,"v":40,"g":1},{"d":152.0,"v":60,"g":1},{"d":152.3,"v":48,"g":1},{"d":152.6,"v":66,"g":1},{"d":152.9,"v":55,"g":1},{"d":153.2,"v":72,"g":1},{"d":153.5,"v":62,"g":1},{"d":153.8,"v":76,"g":1},{"d":154.1,"v":70,"g":1},{"d":154.4,"v":82,"g":1},{"d":154.7,"v":78,"g":1},{"d":154.9,"v":87,"g":1},{"d":158.6,"v":44,"g":2},{"d":158.9,"v":65,"g":2},{"d":159.2,"v":55,"g":2},{"d":159.5,"v":70,"g":2},{"d":159.8,"v":58,"g":2},{"d":160.1,"v":68,"g":2},{"d":160.4,"v":52,"g":2},{"d":160.7,"v":62,"g":2},{"d":161.0,"v":45,"g":2},{"d":161.3,"v":70,"g":2},{"d":161.6,"v":50,"g":2},{"d":161.9,"v":66,"g":2},{"d":162.2,"v":55,"g":2},{"d":162.5,"v":68,"g":2},{"d":162.8,"v":78,"g":2},{"d":163.1,"v":48,"g":2},{"d":163.4,"v":62,"g":2},{"d":163.8,"v":35,"g":2},{"d":164.1,"v":60,"g":2},{"d":164.4,"v":85,"g":2},{"d":177.7,"v":52,"g":3},{"d":178.0,"v":20,"g":3},{"d":178.3,"v":45,"g":3},{"d":178.6,"v":30,"g":3},{"d":178.9,"v":55,"g":3},{"d":179.2,"v":40,"g":3},{"d":179.5,"v":68,"g":3},{"d":179.9,"v":20,"g":3},{"d":180.1,"v":71,"g":3},{"d":180.4,"v":45,"g":3},{"d":180.7,"v":65,"g":3},{"d":181.0,"v":35,"g":3},{"d":181.3,"v":62,"g":3},{"d":181.6,"v":40,"g":3},{"d":181.9,"v":60,"g":3},{"d":182.2,"v":38,"g":3},{"d":182.5,"v":65,"g":3},{"d":192.2,"v":68,"g":4},{"d":192.5,"v":45,"g":4},{"d":192.8,"v":55,"g":4},{"d":193.1,"v":40,"g":4},{"d":193.4,"v":58,"g":4},{"d":193.7,"v":45,"g":4},{"d":194.0,"v":62,"g":4},{"d":194.3,"v":40,"g":4},{"d":194.6,"v":30,"g":4},{"d":201.7,"v":55,"g":5},{"d":202.0,"v":70,"g":5},{"d":202.3,"v":60,"g":5},{"d":202.6,"v":76,"g":5},{"d":202.9,"v":45,"g":5},{"d":203.2,"v":72,"g":5},{"d":203.5,"v":55,"g":5},{"d":203.8,"v":78,"g":5},{"d":204.1,"v":50,"g":5},{"d":204.4,"v":70,"g":5},{"d":204.7,"v":60,"g":5},{"d":205.0,"v":75,"g":5},{"d":205.3,"v":48,"g":5},{"d":205.6,"v":70,"g":5},{"d":205.9,"v":55,"g":5},{"d":206.2,"v":78,"g":5},{"d":206.5,"v":62,"g":5},{"d":206.8,"v":72,"g":5},{"d":207.1,"v":50,"g":5},{"d":207.4,"v":80,"g":5},{"d":207.7,"v":58,"g":5},{"d":208.0,"v":72,"g":5},{"d":208.3,"v":50,"g":5},{"d":208.6,"v":74,"g":5},{"d":208.9,"v":45,"g":5},{"d":209.2,"v":70,"g":5},{"d":209.5,"v":55,"g":5},{"d":209.8,"v":68,"g":5},{"d":210.1,"v":38,"g":5},{"d":210.4,"v":50,"g":5},{"d":210.7,"v":42,"g":5},{"d":211.0,"v":65,"g":5},{"d":211.2,"v":60,"g":5},{"d":221.3,"v":68,"g":6},{"d":221.6,"v":45,"g":6},{"d":221.9,"v":72,"g":6},{"d":222.2,"v":50,"g":6},{"d":222.5,"v":65,"g":6},{"d":222.8,"v":44,"g":6},{"d":223.1,"v":84,"g":6},{"d":223.4,"v":55,"g":6},{"d":223.7,"v":72,"g":6},{"d":224.0,"v":50,"g":6},{"d":224.3,"v":70,"g":6},{"d":224.6,"v":45,"g":6},{"d":224.9,"v":76,"g":6},{"d":225.3,"v":89,"g":6},{"d":225.6,"v":50,"g":6},{"d":225.9,"v":75,"g":6},{"d":226.2,"v":40,"g":6},{"d":226.5,"v":72,"g":6},{"d":226.8,"v":55,"g":6},{"d":227.1,"v":80,"g":6},{"d":227.4,"v":45,"g":6},{"d":227.7,"v":68,"g":6},{"d":228.0,"v":52,"g":6},{"d":228.3,"v":62,"g":6},{"d":228.6,"v":33,"g":6},{"d":228.9,"v":50,"g":6},{"d":229.2,"v":70,"g":6},{"d":229.4,"v":55,"g":6},{"d":229.7,"v":87,"g":6},{"d":230.0,"v":55,"g":6},{"d":230.3,"v":65,"g":6},{"d":230.6,"v":20,"g":6},{"d":230.9,"v":60,"g":6},{"d":231.2,"v":70,"g":6},{"d":231.5,"v":48,"g":6},{"d":231.8,"v":66,"g":6},{"d":232.1,"v":52,"g":6},{"d":232.4,"v":70,"g":6},{"d":232.7,"v":55,"g":6},{"d":233.0,"v":68,"g":6},{"d":233.3,"v":58,"g":6},{"d":233.6,"v":72,"g":6},{"d":233.9,"v":50,"g":6},{"d":234.2,"v":64,"g":6},{"d":234.5,"v":55,"g":6},{"d":234.8,"v":62,"g":6},{"d":235.1,"v":52,"g":6},{"d":235.4,"v":70,"g":6},{"d":235.7,"v":55,"g":6},{"d":236.0,"v":60,"g":6},{"d":236.3,"v":37,"g":6},{"d":236.6,"v":60,"g":6},{"d":236.9,"v":48,"g":6},{"d":237.2,"v":62,"g":6},{"d":237.5,"v":76,"g":6},{"d":237.8,"v":55,"g":6},{"d":238.1,"v":62,"g":6},{"d":238.4,"v":50,"g":6},{"d":238.7,"v":70,"g":6},{"d":239.0,"v":52,"g":6},{"d":239.3,"v":66,"g":6},{"d":239.6,"v":48,"g":6},{"d":239.9,"v":70,"g":6},{"d":240.1,"v":55,"g":6}],
"brb":[{"d":280.4,"v":50,"g":1},{"d":280.7,"v":75,"g":1},{"d":281.0,"v":55,"g":1},{"d":281.4,"v":68,"g":1},{"d":281.8,"v":39,"g":1},{"d":282.2,"v":65,"g":1},{"d":282.6,"v":72,"g":1},{"d":283.0,"v":58,"g":1},{"d":283.4,"v":78,"g":1},{"d":283.8,"v":60,"g":1},{"d":284.2,"v":70,"g":1},{"d":284.6,"v":52,"g":1},{"d":291.2,"v":55,"g":2},{"d":291.6,"v":70,"g":2},{"d":292.0,"v":45,"g":2},{"d":292.4,"v":62,"g":2},{"d":292.8,"v":34,"g":2},{"d":293.2,"v":70,"g":2},{"d":293.6,"v":55,"g":2},{"d":294.0,"v":80,"g":2},{"d":294.4,"v":60,"g":2},{"d":294.8,"v":82,"g":2},{"d":295.2,"v":65,"g":2},{"d":295.6,"v":80,"g":2},{"d":296.0,"v":58,"g":2},{"d":296.4,"v":75,"g":2},{"d":296.8,"v":62,"g":2},{"d":321.4,"v":35,"g":3},{"d":321.8,"v":55,"g":3},{"d":322.2,"v":45,"g":3},{"d":322.6,"v":62,"g":3},{"d":323.0,"v":55,"g":3},{"d":442.3,"v":80,"g":4},{"d":442.6,"v":45,"g":4},{"d":442.9,"v":27,"g":4},{"d":443.2,"v":75,"g":4},{"d":443.5,"v":50,"g":4},{"d":443.8,"v":80,"g":4},{"d":444.1,"v":55,"g":4},{"d":444.4,"v":70,"g":4},{"d":444.7,"v":45,"g":4},{"d":445.0,"v":78,"g":4},{"d":445.3,"v":52,"g":4},{"d":445.6,"v":72,"g":4},{"d":445.9,"v":60,"g":4},{"d":446.2,"v":80,"g":4},{"d":446.5,"v":50,"g":4},{"d":446.8,"v":75,"g":4},{"d":447.1,"v":55,"g":4},{"d":447.4,"v":70,"g":4},{"d":447.7,"v":40,"g":4},{"d":448.0,"v":78,"g":4},{"d":448.3,"v":48,"g":4},{"d":448.6,"v":72,"g":4},{"d":448.9,"v":35,"g":4},{"d":449.2,"v":76,"g":4},{"d":449.5,"v":50,"g":4},{"d":449.8,"v":68,"g":4},{"d":450.1,"v":30,"g":4},{"d":450.4,"v":70,"g":4},{"d":450.7,"v":45,"g":4},{"d":451.0,"v":80,"g":4},{"d":451.3,"v":38,"g":4},{"d":451.6,"v":72,"g":4},{"d":451.9,"v":50,"g":4},{"d":452.2,"v":89,"g":4},{"d":452.5,"v":55,"g":4},{"d":452.9,"v":65,"g":4},{"d":453.2,"v":42,"g":4},{"d":453.5,"v":75,"g":4},{"d":453.8,"v":48,"g":4},{"d":454.1,"v":80,"g":4},{"d":454.4,"v":55,"g":4},{"d":454.7,"v":70,"g":4},{"d":455.0,"v":50,"g":4},{"d":455.3,"v":82,"g":4},{"d":455.6,"v":60,"g":4},{"d":455.9,"v":75,"g":4},{"d":456.2,"v":45,"g":4},{"d":456.5,"v":85,"g":4},{"d":456.8,"v":55,"g":4},{"d":457.1,"v":70,"g":4},{"d":457.4,"v":48,"g":4},{"d":457.7,"v":78,"g":4},{"d":458.0,"v":60,"g":4},{"d":458.3,"v":86,"g":4},{"d":458.6,"v":52,"g":4},{"d":458.9,"v":75,"g":4},{"d":459.2,"v":42,"g":4},{"d":459.5,"v":80,"g":4},{"d":459.8,"v":55,"g":4},{"d":460.1,"v":78,"g":4},{"d":460.4,"v":50,"g":4},{"d":460.7,"v":75,"g":4},{"d":517.7,"v":60,"g":5},{"d":518.0,"v":35,"g":5},{"d":518.3,"v":55,"g":5},{"d":518.6,"v":30,"g":5},{"d":519.0,"v":0,"g":5},{"d":519.3,"v":-34,"g":5},{"d":519.6,"v":-15,"g":5},{"d":519.9,"v":-5,"g":5},{"d":527.0,"v":-46,"g":6},{"d":527.3,"v":-49,"g":6},{"d":527.6,"v":20,"g":6},{"d":527.9,"v":65,"g":6},{"d":528.5,"v":30,"g":6},{"d":529.5,"v":-50,"g":6},{"d":530.6,"v":-80,"g":6},{"d":530.8,"v":-18,"g":6},{"d":531.0,"v":40,"g":6},{"d":531.2,"v":68,"g":6},{"d":534.2,"v":83,"g":7},{"d":534.6,"v":50,"g":7},{"d":535.0,"v":25,"g":7},{"d":535.4,"v":45,"g":7},{"d":535.8,"v":52,"g":7},{"d":538.1,"v":78,"g":8},{"d":538.4,"v":-27,"g":8},{"d":538.7,"v":40,"g":8},{"d":539.0,"v":62,"g":8},{"d":539.3,"v":3,"g":8},{"d":539.6,"v":57,"g":8},{"d":539.9,"v":45,"g":8},{"d":540.2,"v":65,"g":8},{"d":540.5,"v":50,"g":8},{"d":540.8,"v":60,"g":8},{"d":541.1,"v":40,"g":8},{"d":541.4,"v":55,"g":8},{"d":541.7,"v":-56,"g":8},{"d":542.0,"v":47,"g":8}]
},
"spacing":21,
"vconcat":[
{"title":{"text":"Intensity @20mT (mA/m)","orient":"bottom","anchor":"middle","frame":"bounds","fontSize":30,"font":"Liberation Sans","fontWeight":"normal","color":"#111","offset":10,"dx":15},
"hconcat":[
{"hconcat":[
{"width":1,"height":739,"data":{"values":[{"a":0}]},"mark":{"type":"point","opacity":0},"encoding":{}},
{"width":225,"height":739,"resolve":{"axis":{"x":"independent","y":"independent"}},
"layer":[
{"data":{"values":[{"d":1.74,"a":1.26,"b":8400},{"d":73.5,"a":1.26,"b":8400}]},"mark":{"type":"rule","color":"#555","strokeWidth":1},
"encoding":{"y":{"field":"d","type":"quantitative","scale":{"domain":[0,90],"reverse":true,"nice":false,"zero":false},"axis":{"orient":"right","values":[0,5,10,15,20,25,30,35,40,45,50,55,60,65,70,75,80,85,90],"tickSize":-5,"labels":false,"title":null}},
"x":{"field":"a","type":"quantitative","scale":{"type":"log","domain":[1,10000],"nice":false},"axis":{"orient":"top","values":[1,2,3,4,5,6,7,8,9,10,20,30,40,50,60,70,80,90,100,200,300,400,500,600,700,800,900,1000,2000,3000,4000,5000,6000,7000,8000,9000,10000],"tickSize":{"condition":{"test":"indexof([1,10,100,1000,10000], datum.value) >= 0","value":7},"value":3.5},"labels":false,"title":null}},
"x2":{"field":"b"}}},
{"data":{"name":"tls"},"mark":{"type":"line","color":"#9a9a9a","strokeWidth":2.6},
"encoding":{"x":{"field":"v","type":"quantitative","scale":{"type":"log","domain":[1,10000],"nice":false},"axis":null},"y":{"field":"d","type":"quantitative","scale":{"domain":[0,90],"reverse":true,"nice":false,"zero":false},"axis":null},"detail":{"field":"g"},"order":{"field":"d","type":"quantitative"}}},
{"data":{"name":"tlr"},"mark":{"type":"line","color":"#c8705a","strokeWidth":2},
"encoding":{"x":{"field":"v","type":"quantitative","scale":{"type":"log","domain":[1,10000],"nice":false},"axis":null},"y":{"field":"d","type":"quantitative","scale":{"domain":[0,90],"reverse":true,"nice":false,"zero":false},"axis":null},"detail":{"field":"g"},"order":{"field":"d","type":"quantitative"}}},
{"data":{"name":"tlb"},"mark":{"type":"line","color":"#111","strokeWidth":1.1},
"encoding":{"x":{"field":"v","type":"quantitative","scale":{"type":"log","domain":[1,10000],"nice":false},"axis":{"orient":"bottom","values":[1,2,3,4,5,6,7,8,9,10,20,30,40,50,60,70,80,90,100,200,300,400,500,600,700,800,900,1000,2000,3000,4000,5000,6000,7000,8000,9000,10000],"tickSize":{"condition":{"test":"indexof([1,10,100,1000,10000], datum.value) >= 0","value":7},"value":3.5},"labelExpr":"datum.value === 1 ? '10⁰' : datum.value === 10 ? '10¹' : datum.value === 100 ? '10²' : datum.value === 1000 ? '10³' : datum.value === 10000 ? '10⁴' : ''","labelFlush":false,"labelOverlap":false,"labelBound":false,"labelPadding":5,"title":null}},
"y":{"field":"d","type":"quantitative","scale":{"domain":[0,90],"reverse":true,"nice":false,"zero":false},"axis":{"orient":"left","values":[0,5,10,15,20,25,30,35,40,45,50,55,60,65,70,75,80,85,90],"tickSize":-5,"labelPadding":17,"labelExpr":"datum.value % 20 === 0 ? datum.label : ''","labelFlush":false,"labelOverlap":false,"title":null}},
"order":{"field":"d","type":"quantitative"}}},
{"data":{"values":[{"v":479,"d":3.3,"t":"T"},{"v":1520,"d":8.8,"t":"T"},{"v":1870,"d":12.2,"t":"T"},{"v":1870,"d":19.9,"t":"T"},{"v":720,"d":24.4,"t":"T"},{"v":1520,"d":30.6,"t":"T"},{"v":1090,"d":34.5,"t":"T"},{"v":1050,"d":40.1,"t":"T"},{"v":1050,"d":50.3,"t":"T"},{"v":2900,"d":61.1,"t":"T"}]},"mark":{"type":"text","fontWeight":"bold","fontSize":13,"color":"#111","baseline":"middle","align":"center"},
"encoding":{"x":{"field":"v","type":"quantitative","scale":{"type":"log","domain":[1,10000],"nice":false},"axis":null},"y":{"field":"d","type":"quantitative","scale":{"domain":[0,90],"reverse":true,"nice":false,"zero":false},"axis":null},"text":{"field":"t"}}},
{"data":{"values":[{"v":1.9,"d":60.7,"t":"Unit II"},{"v":1.82,"d":82.4,"t":"Unit III"}]},"mark":{"type":"text","fontSize":20,"color":"#111","baseline":"middle","align":"left"},
"encoding":{"x":{"field":"v","type":"quantitative","scale":{"type":"log","domain":[1,10000],"nice":false},"axis":null},"y":{"field":"d","type":"quantitative","scale":{"domain":[0,90],"reverse":true,"nice":false,"zero":false},"axis":null},"text":{"field":"t"}}},
{"data":{"values":[{"v":2140,"d":75.7,"v2":440,"d2":68.7}]},"mark":{"type":"rule","color":"#111","strokeWidth":1},
"encoding":{"x":{"field":"v","type":"quantitative","scale":{"type":"log","domain":[1,10000],"nice":false},"axis":null},"y":{"field":"d","type":"quantitative","scale":{"domain":[0,90],"reverse":true,"nice":false,"zero":false},"axis":null},"x2":{"field":"v2"},"y2":{"field":"d2"}}},
{"data":{"values":[{"v":459,"d":68.83}]},"mark":{"type":"point","shape":"triangle-up","filled":true,"color":"#111","size":40,"angle":-33.7,"opacity":1},
"encoding":{"x":{"field":"v","type":"quantitative","scale":{"type":"log","domain":[1,10000],"nice":false},"axis":null},"y":{"field":"d","type":"quantitative","scale":{"domain":[0,90],"reverse":true,"nice":false,"zero":false},"axis":null}}},
{"data":{"values":[{"v":225,"d":77.0,"t":"susceptibility"}]},"mark":{"type":"text","fontSize":14.5,"color":"#111","baseline":"middle","align":"left"},
"encoding":{"x":{"field":"v","type":"quantitative","scale":{"type":"log","domain":[1,10000],"nice":false},"axis":null},"y":{"field":"d","type":"quantitative","scale":{"domain":[0,90],"reverse":true,"nice":false,"zero":false},"axis":null},"text":{"field":"t"}}}
]}
],"spacing":13.5,"bounds":"flush"},
{"width":218,"height":739,"resolve":{"axis":{"x":"independent","y":"independent"}},
"layer":[
{"data":{"values":[{"d":120.9,"a":1.15,"b":10000},{"d":142.4,"a":1.15,"b":10000},{"d":177.7,"a":1.15,"b":10000}]},"mark":{"type":"rule","color":"#555","strokeWidth":1},
"encoding":{"y":{"field":"d","type":"quantitative","scale":{"domain":[110,250],"reverse":true,"nice":false,"zero":false},"axis":{"orient":"right","values":[110,115,120,125,130,135,140,145,150,155,160,165,170,175,180,185,190,195,200,205,210,215,220,225,230,235,240,245,250],"tickSize":-5,"labels":false,"title":null}},
"x":{"field":"a","type":"quantitative","scale":{"type":"log","domain":[1,10000],"nice":false},"axis":{"orient":"top","values":[1,2,3,4,5,6,7,8,9,10,20,30,40,50,60,70,80,90,100,200,300,400,500,600,700,800,900,1000,2000,3000,4000,5000,6000,7000,8000,9000,10000],"tickSize":{"condition":{"test":"indexof([1,10,100,1000,10000], datum.value) >= 0","value":7},"value":3.5},"labels":false,"title":null}},
"x2":{"field":"b"}}},
{"data":{"name":"tmb"},"mark":{"type":"line","color":"#111","strokeWidth":1.1},
"encoding":{"x":{"field":"v","type":"quantitative","scale":{"type":"log","domain":[1,10000],"nice":false},"axis":{"orient":"bottom","values":[1,2,3,4,5,6,7,8,9,10,20,30,40,50,60,70,80,90,100,200,300,400,500,600,700,800,900,1000,2000,3000,4000,5000,6000,7000,8000,9000,10000],"tickSize":{"condition":{"test":"indexof([1,10,100,1000,10000], datum.value) >= 0","value":7},"value":3.5},"labelExpr":"datum.value === 1 ? '10⁰' : datum.value === 10 ? '10¹' : datum.value === 100 ? '10²' : datum.value === 1000 ? '10³' : datum.value === 10000 ? '10⁴' : ''","labelFlush":false,"labelOverlap":false,"labelBound":false,"labelPadding":5,"title":null}},
"y":{"field":"d","type":"quantitative","scale":{"domain":[110,250],"reverse":true,"nice":false,"zero":false},"axis":{"orient":"left","values":[110,115,120,125,130,135,140,145,150,155,160,165,170,175,180,185,190,195,200,205,210,215,220,225,230,235,240,245,250],"tickSize":-5,"labelPadding":17,"labelExpr":"datum.value % 20 === 0 ? datum.label : ''","labelFlush":false,"labelOverlap":false,"title":null}},
"detail":{"field":"g"},"order":{"field":"d","type":"quantitative"}}},
{"data":{"values":[{"v":1.95,"d":132.3,"t":"Unit IV"},{"v":2.16,"d":164.3,"t":"Unit V"},{"v":1.96,"d":211.0,"t":"Unit VI"}]},"mark":{"type":"text","fontSize":20,"color":"#111","baseline":"middle","align":"left"},
"encoding":{"x":{"field":"v","type":"quantitative","scale":{"type":"log","domain":[1,10000],"nice":false},"axis":null},"y":{"field":"d","type":"quantitative","scale":{"domain":[110,250],"reverse":true,"nice":false,"zero":false},"axis":null},"text":{"field":"t"}}}
]},
{"width":219,"height":739,"resolve":{"axis":{"x":"independent","y":"independent"}},
"layer":[
{"data":{"values":[{"d":297.4,"a":1,"b":10000},{"d":366.5,"a":1,"b":10000},{"d":494.6,"a":1,"b":10000}]},"mark":{"type":"rule","color":"#555","strokeWidth":1},
"encoding":{"y":{"field":"d","type":"quantitative","scale":{"domain":[280,560],"reverse":true,"nice":false,"zero":false},"axis":{"orient":"right","values":[280,290,300,310,320,330,340,350,360,370,380,390,400,410,420,430,440,450,460,470,480,490,500,510,520,530,540,550,560],"tickSize":-5,"labels":false,"title":null}},
"x":{"field":"a","type":"quantitative","scale":{"type":"log","domain":[1,10000],"nice":false},"axis":{"orient":"top","values":[1,2,3,4,5,6,7,8,9,10,20,30,40,50,60,70,80,90,100,200,300,400,500,600,700,800,900,1000,2000,3000,4000,5000,6000,7000,8000,9000,10000],"tickSize":{"condition":{"test":"indexof([1,10,100,1000,10000], datum.value) >= 0","value":7},"value":3.5},"labels":false,"title":null}},
"x2":{"field":"b"}}},
{"data":{"name":"trb"},"mark":{"type":"line","color":"#111","strokeWidth":1.1},
"encoding":{"x":{"field":"v","type":"quantitative","scale":{"type":"log","domain":[1,10000],"nice":false},"axis":{"orient":"bottom","values":[1,2,3,4,5,6,7,8,9,10,20,30,40,50,60,70,80,90,100,200,300,400,500,600,700,800,900,1000,2000,3000,4000,5000,6000,7000,8000,9000,10000],"tickSize":{"condition":{"test":"indexof([1,10,100,1000,10000], datum.value) >= 0","value":7},"value":3.5},"labelExpr":"datum.value === 1 ? '10⁰' : datum.value === 10 ? '10¹' : datum.value === 100 ? '10²' : datum.value === 1000 ? '10³' : datum.value === 10000 ? '10⁴' : ''","labelFlush":false,"labelOverlap":false,"labelBound":false,"labelPadding":5,"title":null}},
"y":{"field":"d","type":"quantitative","scale":{"domain":[280,560],"reverse":true,"nice":false,"zero":false},"axis":{"orient":"left","values":[280,290,300,310,320,330,340,350,360,370,380,390,400,410,420,430,440,450,460,470,480,490,500,510,520,530,540,550,560],"tickSize":-5,"labelPadding":17,"labelExpr":"datum.value % 40 === 0 ? datum.label : ''","labelFlush":false,"labelOverlap":false,"title":null}},
"detail":{"field":"g"},"order":{"field":"d","type":"quantitative"}}},
{"data":{"values":[{"v":2.2,"d":336.9,"t":"Unit VII"},{"v":2.57,"d":404.4,"t":"Unit VIII"}]},"mark":{"type":"text","fontSize":20,"color":"#111","baseline":"middle","align":"left"},
"encoding":{"x":{"field":"v","type":"quantitative","scale":{"type":"log","domain":[1,10000],"nice":false},"axis":null},"y":{"field":"d","type":"quantitative","scale":{"domain":[280,560],"reverse":true,"nice":false,"zero":false},"axis":null},"text":{"field":"t"}}}
]}
],"spacing":23.5},
{"hconcat":[
{"width":230,"height":739,"resolve":{"axis":{"x":"independent","y":"independent"}},
"layer":[
{"data":{"values":[{"v":0,"d":0,"e":90}]},"mark":{"type":"rule","color":"#222","strokeWidth":1},
"encoding":{"x":{"field":"v","type":"quantitative","scale":{"domain":[-90,90],"nice":false,"zero":false},"axis":{"orient":"top","values":[-90,-60,-30,0,30,60,90],"tickSize":7,"labels":false,"title":null}},
"y":{"field":"d","type":"quantitative","scale":{"domain":[0,90],"reverse":true,"nice":false,"zero":false},"axis":{"orient":"right","values":[0,5,10,15,20,25,30,35,40,45,50,55,60,65,70,75,80,85,90],"tickSize":-5,"labels":false,"title":null}},
"y2":{"field":"e"}}},
{"data":{"values":[{"d":1.8,"a":-87,"b":90},{"d":72.8,"a":-87,"b":90}]},"mark":{"type":"rule","color":"#555","strokeWidth":1},
"encoding":{"y":{"field":"d","type":"quantitative","scale":{"domain":[0,90],"reverse":true,"nice":false,"zero":false},"axis":null},"x":{"field":"a","type":"quantitative","scale":{"domain":[-90,90],"nice":false,"zero":false},"axis":null},"x2":{"field":"b"}}},
{"data":{"name":"blb"},"mark":{"type":"line","color":"#111","strokeWidth":1.1},
"encoding":{"x":{"field":"v","type":"quantitative","scale":{"domain":[-90,90],"nice":false,"zero":false},"axis":{"orient":"bottom","values":[-90,-60,-30,0,30,60,90],"tickSize":6,"labelExpr":"datum.value === -90 ? '-90' : datum.value === 0 ? '0' : datum.value === 90 ? '90' : ''","labelFlush":false,"labelOverlap":false,"labelBound":false,"labelPadding":7,"title":null}},
"y":{"field":"d","type":"quantitative","scale":{"domain":[0,90],"reverse":true,"nice":false,"zero":false},"axis":{"orient":"left","values":[0,5,10,15,20,25,30,35,40,45,50,55,60,65,70,75,80,85,90],"tickSize":-5,"labelPadding":17,"labelExpr":"datum.value % 20 === 0 ? datum.label : ''","labelFlush":false,"labelOverlap":false,"title":null}},
"order":{"field":"d","type":"quantitative"}}},
{"data":{"values":[{"v":-47.7,"d":3.3,"t":"T"},{"v":-26.8,"d":9.0,"t":"T"},{"v":-23.7,"d":12.3,"t":"T"},{"v":-23.7,"d":19.9,"t":"T"},{"v":-40.4,"d":24.7,"t":"T"},{"v":-26.8,"d":30.9,"t":"T"},{"v":-32.6,"d":34.8,"t":"T"},{"v":-35.4,"d":40.4,"t":"T"},{"v":-35.7,"d":50.2,"t":"T"},{"v":-16.4,"d":61.3,"t":"T"}]},"mark":{"type":"text","fontWeight":"bold","fontSize":13,"color":"#111","baseline":"middle","align":"center"},
"encoding":{"x":{"field":"v","type":"quantitative","scale":{"domain":[-90,90],"nice":false,"zero":false},"axis":null},"y":{"field":"d","type":"quantitative","scale":{"domain":[0,90],"reverse":true,"nice":false,"zero":false},"axis":null},"text":{"field":"t"}}}
]},
{"hconcat":[
{"width":221,"height":739,"resolve":{"axis":{"x":"independent","y":"independent"}},
"layer":[
{"data":{"values":[{"v":0,"d":110,"e":250}]},"mark":{"type":"rule","color":"#222","strokeWidth":1},
"encoding":{"x":{"field":"v","type":"quantitative","scale":{"domain":[-90,90],"nice":false,"zero":false},"axis":{"orient":"top","values":[-90,-60,-30,0,30,60,90],"tickSize":7,"labels":false,"title":null}},
"y":{"field":"d","type":"quantitative","scale":{"domain":[110,250],"reverse":true,"nice":false,"zero":false},"axis":{"orient":"right","values":[110,115,120,125,130,135,140,145,150,155,160,165,170,175,180,185,190,195,200,205,210,215,220,225,230,235,240,245,250],"tickSize":-5,"labels":false,"title":null}},
"y2":{"field":"e"}}},
{"data":{"name":"bmb"},"mark":{"type":"line","color":"#111","strokeWidth":1.1},
"encoding":{"x":{"field":"v","type":"quantitative","scale":{"domain":[-90,90],"nice":false,"zero":false},"axis":{"orient":"bottom","values":[-90,-60,-30,0,30,60,90],"tickSize":6,"labelExpr":"datum.value === -90 ? '-90' : datum.value === 0 ? '0' : datum.value === 90 ? '90' : ''","labelFlush":false,"labelOverlap":false,"labelBound":false,"labelPadding":7,"title":"Inclination (°)","titlePadding":8}},
"y":{"field":"d","type":"quantitative","scale":{"domain":[110,250],"reverse":true,"nice":false,"zero":false},"axis":{"orient":"left","values":[110,115,120,125,130,135,140,145,150,155,160,165,170,175,180,185,190,195,200,205,210,215,220,225,230,235,240,245,250],"tickSize":-5,"labelPadding":17,"labelExpr":"datum.value % 20 === 0 ? datum.label : ''","labelFlush":false,"labelOverlap":false,"title":null}},
"detail":{"field":"g"},"order":{"field":"d","type":"quantitative"}}}
]},
{"width":219,"height":739,"resolve":{"axis":{"x":"independent","y":"independent"}},
"layer":[
{"data":{"values":[{"v":0,"d":280,"e":560}]},"mark":{"type":"rule","color":"#222","strokeWidth":1},
"encoding":{"x":{"field":"v","type":"quantitative","scale":{"domain":[-90,90],"nice":false,"zero":false},"axis":{"orient":"top","values":[-90,-60,-30,0,30,60,90],"tickSize":7,"labels":false,"title":null}},
"y":{"field":"d","type":"quantitative","scale":{"domain":[280,560],"reverse":true,"nice":false,"zero":false},"axis":{"orient":"right","values":[280,290,300,310,320,330,340,350,360,370,380,390,400,410,420,430,440,450,460,470,480,490,500,510,520,530,540,550,560],"tickSize":-5,"labels":false,"title":null}},
"y2":{"field":"e"}}},
{"data":{"name":"brb"},"mark":{"type":"line","color":"#111","strokeWidth":1.1},
"encoding":{"x":{"field":"v","type":"quantitative","scale":{"domain":[-90,90],"nice":false,"zero":false},"axis":{"orient":"bottom","values":[-90,-60,-30,0,30,60,90],"tickSize":6,"labelExpr":"datum.value === -90 ? '-90' : datum.value === 0 ? '0' : datum.value === 90 ? '90' : ''","labelFlush":false,"labelOverlap":false,"labelBound":false,"labelPadding":7,"title":null}},
"y":{"field":"d","type":"quantitative","scale":{"domain":[280,560],"reverse":true,"nice":false,"zero":false},"axis":{"orient":"left","values":[280,290,300,310,320,330,340,350,360,370,380,390,400,410,420,430,440,450,460,470,480,490,500,510,520,530,540,550,560],"tickSize":-5,"labelPadding":17,"labelExpr":"datum.value % 40 === 0 ? datum.label : ''","labelFlush":false,"labelOverlap":false,"title":null}},
"detail":{"field":"g"},"order":{"field":"d","type":"quantitative"}}}
]}
],"spacing":35}
],"spacing":31}
]
}
